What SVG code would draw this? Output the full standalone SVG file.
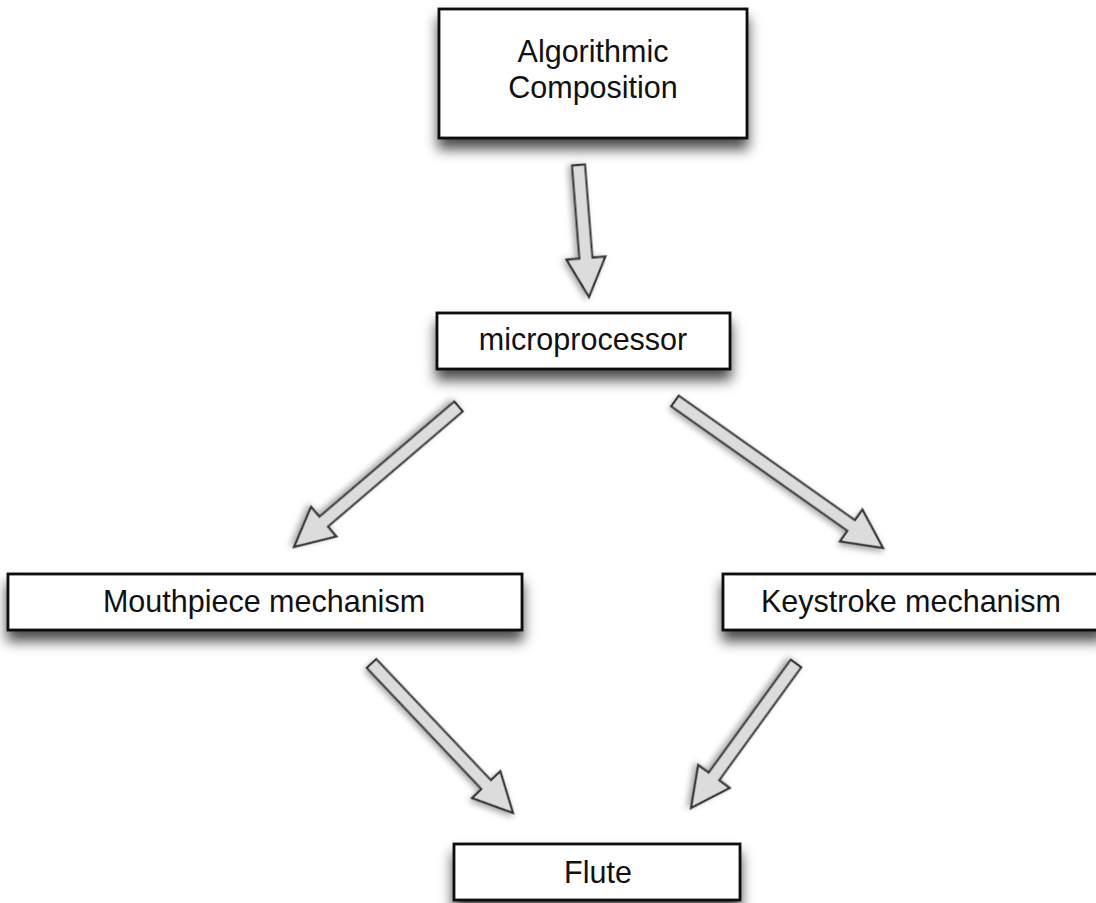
<svg xmlns="http://www.w3.org/2000/svg" width="1096" height="903" viewBox="0 0 1096 903">
  <style>
    .box { fill: #ffffff; stroke: #111111; stroke-width: 2.8; filter: url(#boxShadow); }
    .label { font-family: "Liberation Sans", Arial, Helvetica, sans-serif; font-size: 30.5px; fill: #111111; text-anchor: middle; }
    .arrow { fill: #dcdcdc; stroke: #333333; stroke-width: 2.2; stroke-linejoin: miter; filter: url(#arrowShadow); }
  </style>
  <defs>
    <filter id="boxShadow" x="-10%" y="-30%" width="120%" height="190%">
      <feDropShadow dx="0" dy="10" stdDeviation="6.5" flood-color="#000000" flood-opacity="0.7"/>
    </filter>
    <filter id="arrowShadow" x="-30%" y="-30%" width="160%" height="160%">
      <feDropShadow dx="1" dy="3" stdDeviation="3" flood-color="#000000" flood-opacity="0.35"/>
    </filter>
  </defs>

  <rect width="1096" height="903" fill="#ffffff"/>

  <!-- block arrows: tail at origin, pointing along +x, then placed -->
  <g id="connectors">
    <polygon class="arrow" transform="translate(578.5,165) rotate(85.45)"
             points="0,-6.5 93.4,-6.5 93.4,-19.5 132.4,0 93.4,19.5 93.4,6.5 0,6.5"/>
    <polygon class="arrow" transform="translate(458.5,406.5) rotate(139.5)"
             points="0,-6.5 177.3,-6.5 177.3,-19.5 216.3,0 177.3,19.5 177.3,6.5 0,6.5"/>
    <polygon class="arrow" transform="translate(675,401) rotate(35.25)"
             points="0,-6.5 215.7,-6.5 215.7,-19.5 254.7,0 215.7,19.5 215.7,6.5 0,6.5"/>
    <polygon class="arrow" transform="translate(371.5,663.5) rotate(46.57)"
             points="0,-6.5 166.8,-6.5 166.8,-19.5 205.8,0 166.8,19.5 166.8,6.5 0,6.5"/>
    <polygon class="arrow" transform="translate(796,663.5) rotate(126)"
             points="0,-6.5 139.6,-6.5 139.6,-19.5 178.6,0 139.6,19.5 139.6,6.5 0,6.5"/>
  </g>

  <g id="node-algorithmic-composition">
    <rect class="box" x="439" y="9" width="308" height="129"/>
    <text class="label" x="593" y="62">Algorithmic</text>
    <text class="label" x="593" y="98">Composition</text>
  </g>

  <g id="node-microprocessor">
    <rect class="box" x="437" y="313" width="293" height="56"/>
    <text class="label" x="583" y="350">microprocessor</text>
  </g>

  <g id="node-mouthpiece">
    <rect class="box" x="8" y="574" width="514" height="56"/>
    <text class="label" x="264" y="612">Mouthpiece mechanism</text>
  </g>

  <g id="node-keystroke">
    <rect class="box" x="723" y="574" width="380" height="56"/>
    <text class="label" x="911" y="612">Keystroke mechanism</text>
  </g>

  <g id="node-flute">
    <rect class="box" x="454" y="844" width="286" height="56"/>
    <text class="label" x="598" y="883">Flute</text>
  </g>
</svg>
